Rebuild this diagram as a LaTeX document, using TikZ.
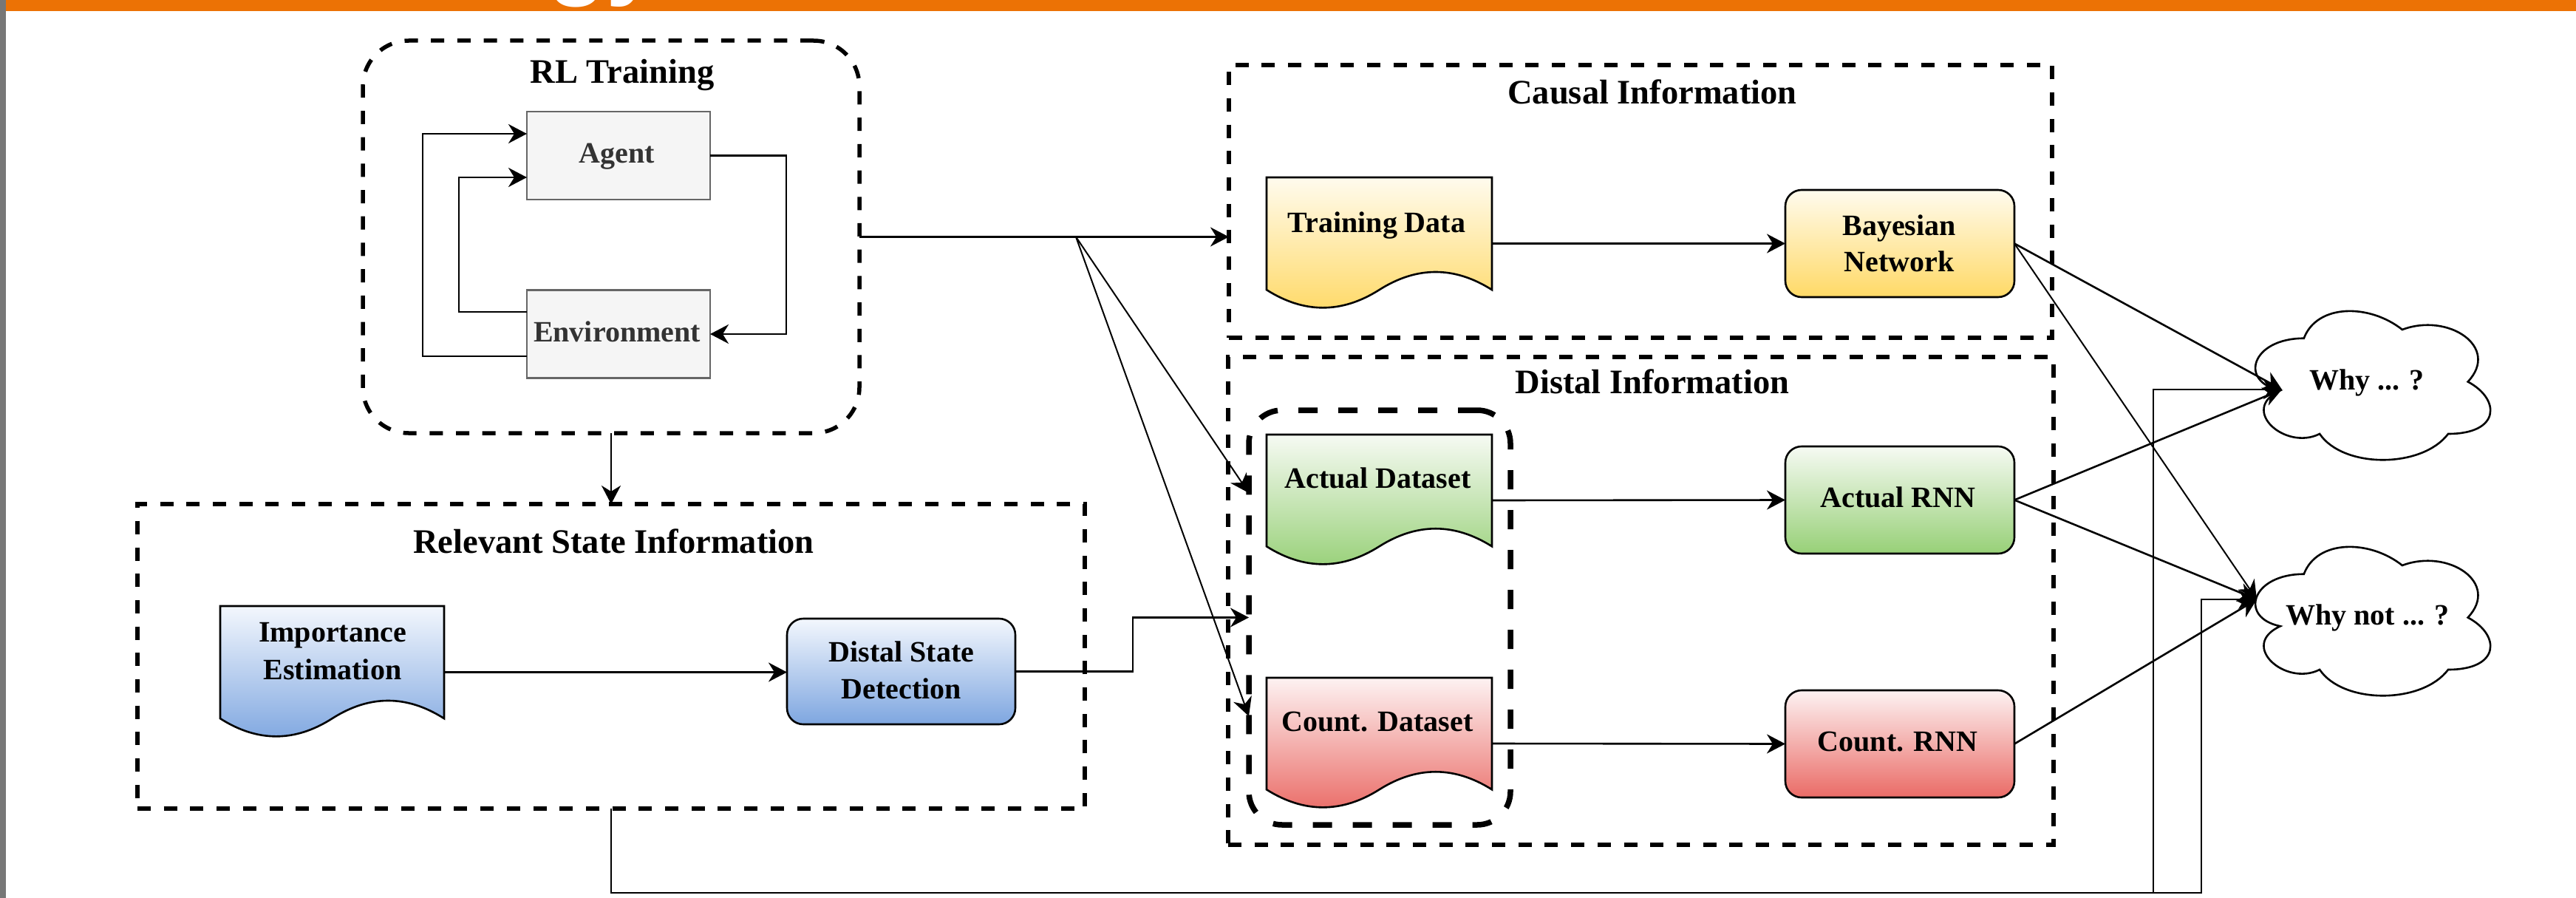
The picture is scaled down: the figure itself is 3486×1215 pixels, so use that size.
\documentclass[tikz,border=0pt]{standalone}
\usepackage{fontspec}
\setmainfont{Liberation Serif}
\newfontfamily\headsans{Liberation Sans}
\usetikzlibrary{arrows.meta}

\definecolor{barorange}{HTML}{EC7205}
\definecolor{stripgray}{HTML}{777777}
\definecolor{agentfill}{HTML}{F5F5F5}
\definecolor{agentline}{HTML}{666666}
\definecolor{agenttext}{HTML}{333333}
\definecolor{yellowtop}{HTML}{FFFBEE}
\definecolor{yellowbot}{HTML}{FFD966}
\definecolor{greentop}{HTML}{F6FAF3}
\definecolor{greenbot}{HTML}{97D077}
\definecolor{redtop}{HTML}{FDF2F2}
\definecolor{redbot}{HTML}{EA6B66}
\definecolor{bluetop}{HTML}{F3F7FD}
\definecolor{bluebot}{HTML}{7EA6E0}

\tikzset{
  bbox/.style={inner sep=0pt, outer sep=0pt},
  frame/.style={bbox, draw, line width=5.5pt, dash pattern=on 18pt off 17.7pt},
  groupframe/.style={bbox, draw, line width=7.5pt, dash pattern=on 26pt off 28pt, rounded corners=45pt},
  procbox/.style={bbox, draw, line width=2.6pt, rounded corners=22pt, minimum width=310pt, minimum height=145pt},
  rlbox/.style={bbox, draw=agentline, fill=agentfill, line width=2.6pt, minimum width=248pt, minimum height=119pt},
  txt/.style={inner sep=0pt, anchor=base, font=\fontsize{40pt}{50pt}\selectfont\bfseries},
  ttl/.style={inner sep=0pt, anchor=base, font=\fontsize{46.5pt}{56pt}\selectfont\bfseries},
  conn/.style={line width=2.6pt, -{Stealth[length=25pt,width=26pt,inset=8pt]}},
  thinconn/.style={line width=2pt, -{Stealth[length=25pt,width=26pt,inset=8pt]}},
  shapeline/.style={draw, line width=2.6pt},
}

% document symbol with a wavy lower edge: name, left, top, width, height, top colour, bottom colour
\newcommand\docsheet[7]{%
  \node[bbox, anchor=north west, minimum width=#4pt, minimum height=#5pt] (#1) at (#2,#3) {};
  \draw[shapeline, top color=#6, bottom color=#7]
    (#2,#3) -- ({#2+#4},#3) -- ({#2+#4},{#3+0.85*#5})
    .. controls ({#2+0.8333*#4},{#3+0.67*#5}) and ({#2+0.6667*#4},{#3+0.67*#5}) .. ({#2+0.5*#4},{#3+0.85*#5})
    .. controls ({#2+0.3333*#4},{#3+1.03*#5}) and ({#2+0.1667*#4},{#3+1.03*#5}) .. (#2,{#3+0.85*#5}) -- cycle;}

% cloud outline: name, left, top, width, height
\newcommand\cloudshape[5]{%
  \node[bbox, anchor=north west, minimum width=#4pt, minimum height=#5pt] (#1) at (#2,#3) {};
  \draw[shapeline, fill=white]
    ({#2+0.25*#4},{#3+0.25*#5})
    .. controls ({#2+0.05*#4},{#3+0.25*#5}) and ({#2},{#3+0.5*#5}) .. ({#2+0.16*#4},{#3+0.55*#5})
    .. controls ({#2},{#3+0.66*#5}) and ({#2+0.18*#4},{#3+0.9*#5}) .. ({#2+0.31*#4},{#3+0.8*#5})
    .. controls ({#2+0.4*#4},{#3+#5}) and ({#2+0.7*#4},{#3+#5}) .. ({#2+0.8*#4},{#3+0.8*#5})
    .. controls ({#2+#4},{#3+0.8*#5}) and ({#2+#4},{#3+0.6*#5}) .. ({#2+0.875*#4},{#3+0.5*#5})
    .. controls ({#2+#4},{#3+0.3*#5}) and ({#2+0.8*#4},{#3+0.1*#5}) .. ({#2+0.625*#4},{#3+0.2*#5})
    .. controls ({#2+0.5*#4},{#3+0.05*#5}) and ({#2+0.3*#4},{#3+0.05*#5}) .. ({#2+0.25*#4},{#3+0.25*#5}) -- cycle;}

\begin{document}
\begin{tikzpicture}[x=1pt, y=-1pt]
  \useasboundingbox (0,0) rectangle (3486,1215);
  \fill[white] (0,0) rectangle (3486,1215);

  % slide decoration: side strip and heading bar
  \fill[stripgray] (0,0) rectangle (8,1215);
  \fill[barorange] (8,0) rectangle (3486,15);
  \begin{scope}
    \clip (8,0) rectangle (3486,15);
    \node[anchor=base west, inner sep=0pt, text=white,
          font=\headsans\bfseries\fontsize{130pt}{130pt}\selectfont] (headgy) at (741,-17) {gy};
  \end{scope}

  % containers
  \node[frame, rounded corners=62pt, minimum width=672pt, minimum height=531pt] (rl) at (827,320.5) {};
  \node[frame, minimum width=1282pt, minimum height=412pt] (rel) at (827,888) {};
  \node[frame, minimum width=1114pt, minimum height=369pt] (causal) at (2220,272.5) {};
  \node[frame, minimum width=1117pt, minimum height=660pt] (distal) at (2220.5,813) {};
  \node[groupframe, minimum width=354pt, minimum height=561pt] (grp) at (1867,835.5) {};

  % container titles
  \node[ttl] (rl-t) at (842,112.7) {RL Training};
  \node[ttl] (causal-t) at (2236,140.4) {Causal Information};
  \node[ttl] (distal-t) at (2236,532) {Distal Information};
  \node[ttl] (rel-t) at (830.5,748) {Relevant State Information};

  % RL training loop
  \node[rlbox] (agent) at (837,210.5) {};
  \node[rlbox] (env) at (837,452) {};
  \node[txt, text=agenttext] (agent-t) at (835,220.6) {Agent};
  \node[txt, text=agenttext] (env-t) at (835,462) {Environment};

  % processing boxes
  \node[procbox, top color=yellowtop, bottom color=yellowbot] (bn) at (2571,329.5) {};
  \node[procbox, top color=greentop, bottom color=greenbot] (arnn) at (2571,676.5) {};
  \node[procbox, top color=redtop, bottom color=redbot] (crnn) at (2571,1006.5) {};
  \node[procbox, top color=bluetop, bottom color=bluebot, minimum width=309pt, minimum height=143pt] (dsd) at (1219.5,908.5) {};

  % data sheets
  \docsheet{train}{1714}{240}{305}{179}{yellowtop}{yellowbot}
  \docsheet{actd}{1714}{588}{305}{178}{greentop}{greenbot}
  \docsheet{cntd}{1714}{917}{305}{178}{redtop}{redbot}
  \docsheet{ie}{298}{820}{303}{179}{bluetop}{bluebot}

  % questions
  \cloudshape{why}{3029}{399}{355}{235}
  \cloudshape{whynot}{3029}{718}{355}{235}

  % labels
  \node[txt] (train-t) at (1863,314) {Training Data};
  \node[txt] (bn-t1) at (2570,318.3) {Bayesian};
  \node[txt] (bn-t2) at (2570,367.7) {Network};
  \node[txt] (actd-t) at (1864.5,660) {Actual Dataset};
  \node[txt] (cntd-t) at (1864,989) {Count. Dataset};
  \node[txt] (arnn-t) at (2568.5,686.6) {Actual RNN};
  \node[txt] (crnn-t) at (2568,1016) {Count. RNN};
  \node[txt] (ie-t1) at (450,868.6) {Importance};
  \node[txt] (ie-t2) at (450,919.6) {Estimation};
  \node[txt] (dsd-t1) at (1220,895) {Distal State};
  \node[txt] (dsd-t2) at (1220,945) {Detection};
  \node[txt] (why-t) at (3203,527) {Why ... ?};
  \node[txt] (whynot-t) at (3204,845) {Why not ... ?};

  % connector end points on the clouds and the fan-out point
  \coordinate (whyIn) at ([xshift=59pt,yshift=-10.5pt]why.west);
  \coordinate (whynotIn) at ([xshift=25pt,yshift=24.5pt]whynot.west);
  \coordinate (fan) at (1456,320.5);

  % RL loop connectors
  \draw[conn] ([yshift=-30pt]env.west) -- ++(-141,0) |- ([yshift=29.5pt]agent.west);
  \draw[conn] ([yshift=30pt]env.west) -- ++(-92,0) |- ([yshift=-29.5pt]agent.west);
  \draw[conn] (agent.east) -- ++(103,0) |- (env.east);

  % flow between blocks
  \draw[conn] (rl.east) -- (causal.west |- rl.east);
  \draw[thinconn] (fan) -- ([yshift=168.5pt]grp.west);
  \draw[thinconn] (fan) -- ([yshift=-133.5pt]grp.west);
  \draw[conn] (rl.south) -- (rel.north);
  \draw[conn] (ie.east) -- (ie.east -| dsd.west);
  \draw[conn] (dsd.east) -- ++(159,0) |- (grp.west);
  \draw[conn] (train.east) -- (bn.west);
  \draw[conn] (actd.east) -- (arnn.west);
  \draw[conn] (cntd.east) -- (crnn.west);

  % towards the questions
  \draw[conn] (bn.east) -- (whyIn);
  \draw[thinconn] (bn.east) -- (whynotIn);
  \draw[conn] (arnn.east) -- (whyIn);
  \draw[conn] (arnn.east) -- (whynotIn);
  \draw[conn] (crnn.east) -- (whynotIn);
  \draw[thinconn] (rel.south) |- (2914,1208) |- (whyIn);
  \draw[thinconn] (rel.south) |- (2979,1208) |- (whynotIn);
\end{tikzpicture}
\end{document}
